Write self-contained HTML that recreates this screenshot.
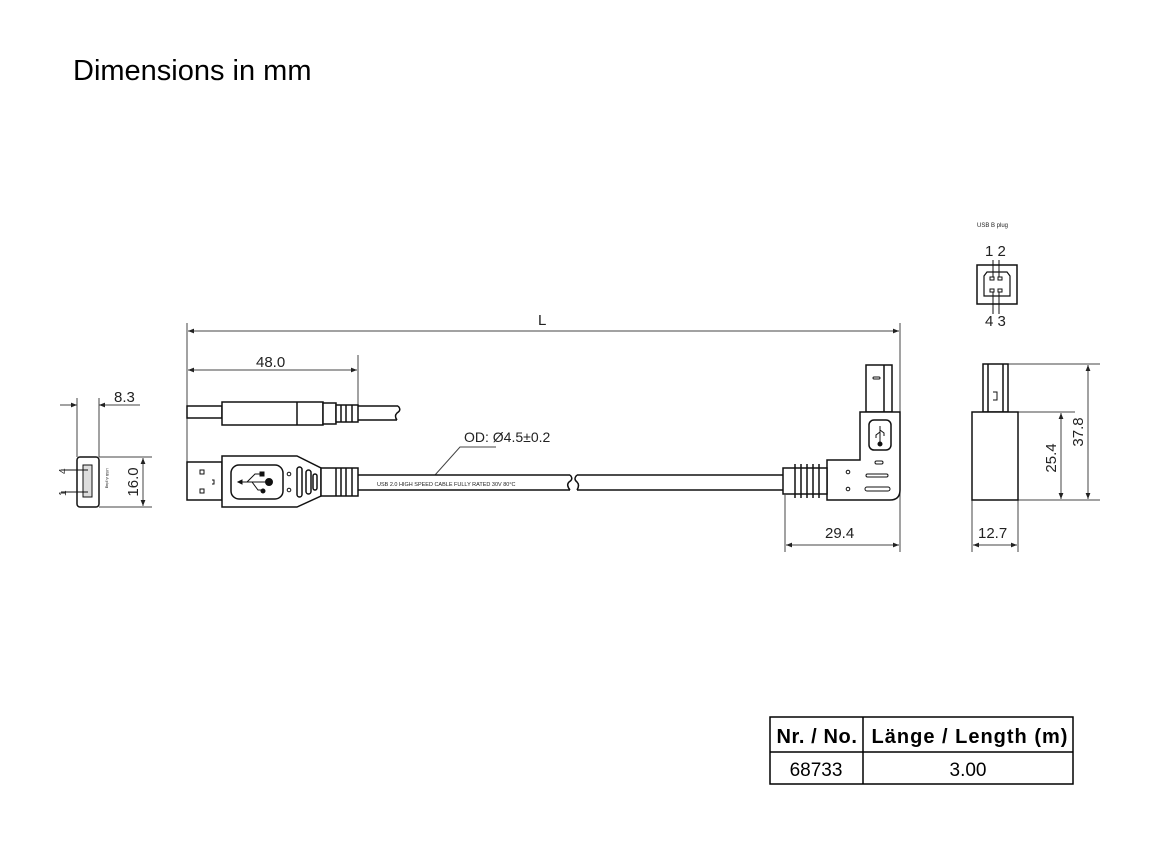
<!DOCTYPE html>
<html><head><meta charset="utf-8"><style>
html,body{margin:0;padding:0;background:#fff;width:1152px;height:864px;overflow:hidden}
svg{display:block}
text{font-family:"Liberation Sans",sans-serif;fill:#222}
</style></head><body>
<svg width="1152" height="864" viewBox="0 0 1152 864">
<defs>
<marker id="a" viewBox="0 0 10 10" refX="10" refY="5" markerWidth="9" markerHeight="6" orient="auto-start-reverse" markerUnits="userSpaceOnUse"><path d="M0,1 L10,5 L0,9z" fill="#222"/></marker>
</defs>
<text x="73" y="80" font-size="29" style="fill:#000">Dimensions in mm</text>

<g stroke="#444" stroke-width="1" fill="none">
<line x1="187" y1="323" x2="187" y2="500"/>
<line x1="900" y1="323" x2="900" y2="552"/>
<line x1="188" y1="331" x2="899" y2="331" marker-start="url(#a)" marker-end="url(#a)"/>
<line x1="358" y1="355" x2="358" y2="405"/>
<line x1="188" y1="370" x2="357" y2="370" marker-start="url(#a)" marker-end="url(#a)"/>
<line x1="785" y1="495" x2="785" y2="552"/>
<line x1="786" y1="545" x2="899" y2="545" marker-start="url(#a)" marker-end="url(#a)"/>
<line x1="77" y1="398" x2="77" y2="457"/>
<line x1="99" y1="398" x2="99" y2="457"/>
<line x1="60" y1="405" x2="77" y2="405" marker-end="url(#a)"/>
<line x1="140" y1="405" x2="99" y2="405" marker-end="url(#a)"/>
<line x1="99" y1="457" x2="152" y2="457"/>
<line x1="99" y1="507" x2="152" y2="507"/>
<line x1="143" y1="458" x2="143" y2="506" marker-start="url(#a)" marker-end="url(#a)"/>
<line x1="1008" y1="364" x2="1100" y2="364"/>
<line x1="1018" y1="412" x2="1075" y2="412"/>
<line x1="1018" y1="500" x2="1100" y2="500"/>
<line x1="1088" y1="365" x2="1088" y2="499" marker-start="url(#a)" marker-end="url(#a)"/>
<line x1="1061" y1="413" x2="1061" y2="499" marker-start="url(#a)" marker-end="url(#a)"/>
<line x1="972" y1="500" x2="972" y2="552"/>
<line x1="1018" y1="500" x2="1018" y2="552"/>
<line x1="973" y1="545" x2="1017" y2="545" marker-start="url(#a)" marker-end="url(#a)"/>
<polyline points="435,475 460,447 496,447"/>
</g>

<g font-size="15">
<text x="538" y="325">L</text>
<text x="256" y="367">48.0</text>
<text x="114" y="402">8.3</text>
<text x="825" y="538">29.4</text>
<text x="978" y="538">12.7</text>
<text x="464" y="442" font-size="14">OD: Ø4.5±0.2</text>
<text x="985" y="256">1 2</text>
<text x="985" y="326">4 3</text>
</g>
<text x="977" y="227" font-size="6">USB B plug</text>
<text transform="translate(1083,432) rotate(-90)" font-size="15" text-anchor="middle">37.8</text>
<text transform="translate(1056,458) rotate(-90)" font-size="15" text-anchor="middle">25.4</text>
<text transform="translate(138,482) rotate(-90)" font-size="15" text-anchor="middle">16.0</text>
<text transform="translate(66,474) rotate(-90)" font-size="10">4</text>
<text transform="translate(66,496) rotate(-90)" font-size="10">1</text>
<text transform="translate(106,468) rotate(90)" font-size="4">USB A plug</text>

<g stroke="#111" stroke-width="1.5" fill="#fff">
<rect x="187" y="406" width="35" height="12"/>
<rect x="222" y="402" width="101" height="23"/>
<line x1="297" y1="402" x2="297" y2="425"/>
<rect x="323" y="403" width="13" height="21"/>
<rect x="336" y="405" width="22" height="17"/>
<line x1="341" y1="405" x2="341" y2="422"/><line x1="346" y1="405" x2="346" y2="422"/><line x1="352" y1="405" x2="352" y2="422"/>
<path d="M358,406 H398 M358,420 H397" fill="none"/>
<path d="M398,406 q4,4 -1,7 q-3,3 0,7" fill="none"/>

<rect x="187" y="462" width="35" height="38"/>
<path d="M222,456 H297 L321,468 V496 L297,507 H222 Z"/>
<rect x="231" y="465" width="52" height="34" rx="8"/>
<rect x="297" y="467" width="5" height="30" rx="2.5"/>
<rect x="306" y="470" width="5" height="24" rx="2.5"/>
<rect x="313" y="474" width="4" height="16" rx="2"/>
<rect x="321" y="468" width="37" height="28"/>
<line x1="336" y1="468" x2="336" y2="496"/><line x1="341" y1="468" x2="341" y2="496"/><line x1="346" y1="468" x2="346" y2="496"/><line x1="352" y1="468" x2="352" y2="496"/>
<path d="M358,475 H570 M358,490 H570 M577,475 H785 M577,490 H785" fill="none"/>
<path d="M570,475 q4,4 -1,7 q-3,3 1,8 M577,475 q-4,4 0,7 q3,3 0,8" fill="none"/>

<rect x="866" y="365" width="26" height="47"/>
<line x1="884" y1="365" x2="884" y2="412"/>
<path d="M860,412 H900 V490 Q900,500 890,500 H827 V460 H860 Z"/>
<rect x="869" y="420" width="22" height="30" rx="5"/>
<path d="M783,468 H827 V494 H783 Z"/>
<line x1="795" y1="464" x2="795" y2="498"/><line x1="801" y1="464" x2="801" y2="498"/><line x1="807" y1="464" x2="807" y2="498"/><line x1="813" y1="464" x2="813" y2="498"/><line x1="819" y1="464" x2="819" y2="498"/>

<rect x="983" y="364" width="25" height="48"/>
<line x1="988" y1="364" x2="988" y2="412"/><line x1="1003" y1="364" x2="1003" y2="412"/>
<rect x="972" y="412" width="46" height="88"/>

<rect x="977" y="265" width="40" height="39"/>
<path d="M987,272 H1007 L1010,276 V296 H984 V276 Z" stroke-width="1.2"/>

<rect x="77" y="457" width="22" height="50" rx="3"/>
<rect x="83" y="465" width="9" height="32" fill="#ddd" stroke-width="1"/>
</g>
<g stroke="#111" stroke-width="1" fill="none">
<line x1="61" y1="470" x2="88" y2="470"/><line x1="61" y1="492" x2="88" y2="492"/>
<rect x="990" y="277" width="4" height="3"/><rect x="998" y="277" width="4" height="3"/>
<rect x="990" y="289" width="4" height="3"/><rect x="998" y="289" width="4" height="3"/>
<line x1="993" y1="260" x2="993" y2="277"/><line x1="999" y1="260" x2="999" y2="277"/>
<line x1="993" y1="292" x2="993" y2="314"/><line x1="999" y1="292" x2="999" y2="314"/>
<path d="M993,392 H997 V400 H993"/>
<path d="M238,482 H268 M247,482 L255,474 H262 M252,482 L258,490 H264"/>
<circle cx="269" cy="482" r="3.5" fill="#111"/>
<rect x="260" y="472" width="4" height="4" fill="#111"/>
<circle cx="263" cy="491" r="2" fill="#111"/>
<path d="M238,482 l4,-2 v4z" fill="#111"/>
<circle cx="289" cy="474" r="1.8"/><circle cx="289" cy="490" r="1.8"/>
<rect x="200" y="470" width="4" height="4"/><rect x="200" y="489" width="4" height="4"/>
<path d="M212,480 h2 v4 h-2"/>
<path d="M880,426 V444 M880,432 l-4,3 v3 M880,430 l4,3 v3"/>
<circle cx="880" cy="444" r="2" fill="#111"/>
<rect x="873" y="377" width="7" height="2" rx="1"/>
<rect x="875" y="461" width="8" height="3" rx="1.5"/>
<rect x="866" y="474" width="22" height="3" rx="1.5"/>
<rect x="865" y="487" width="25" height="4" rx="2"/>
<circle cx="848" cy="472" r="1.8"/><circle cx="848" cy="489" r="1.8"/>
</g>
<text x="377" y="486" font-size="5.5">USB 2.0 HIGH SPEED CABLE FULLY RATED 30V 80°C</text>

<g stroke="#000" stroke-width="1.5" fill="none">
<rect x="770" y="717" width="303" height="67"/>
<line x1="770" y1="752" x2="1073" y2="752"/>
<line x1="863" y1="717" x2="863" y2="784"/>
</g>
<g font-size="19">
<text x="817" y="743" text-anchor="middle" font-weight="bold" font-size="20" letter-spacing="0.6" style="fill:#000">Nr. / No.</text>
<text x="970" y="743" text-anchor="middle" font-weight="bold" font-size="20" letter-spacing="1" style="fill:#000">Länge / Length (m)</text>
<text x="816" y="776" text-anchor="middle" style="fill:#000">68733</text>
<text x="968" y="776" text-anchor="middle" style="fill:#000">3.00</text>
</g>
</svg>
</body></html>
